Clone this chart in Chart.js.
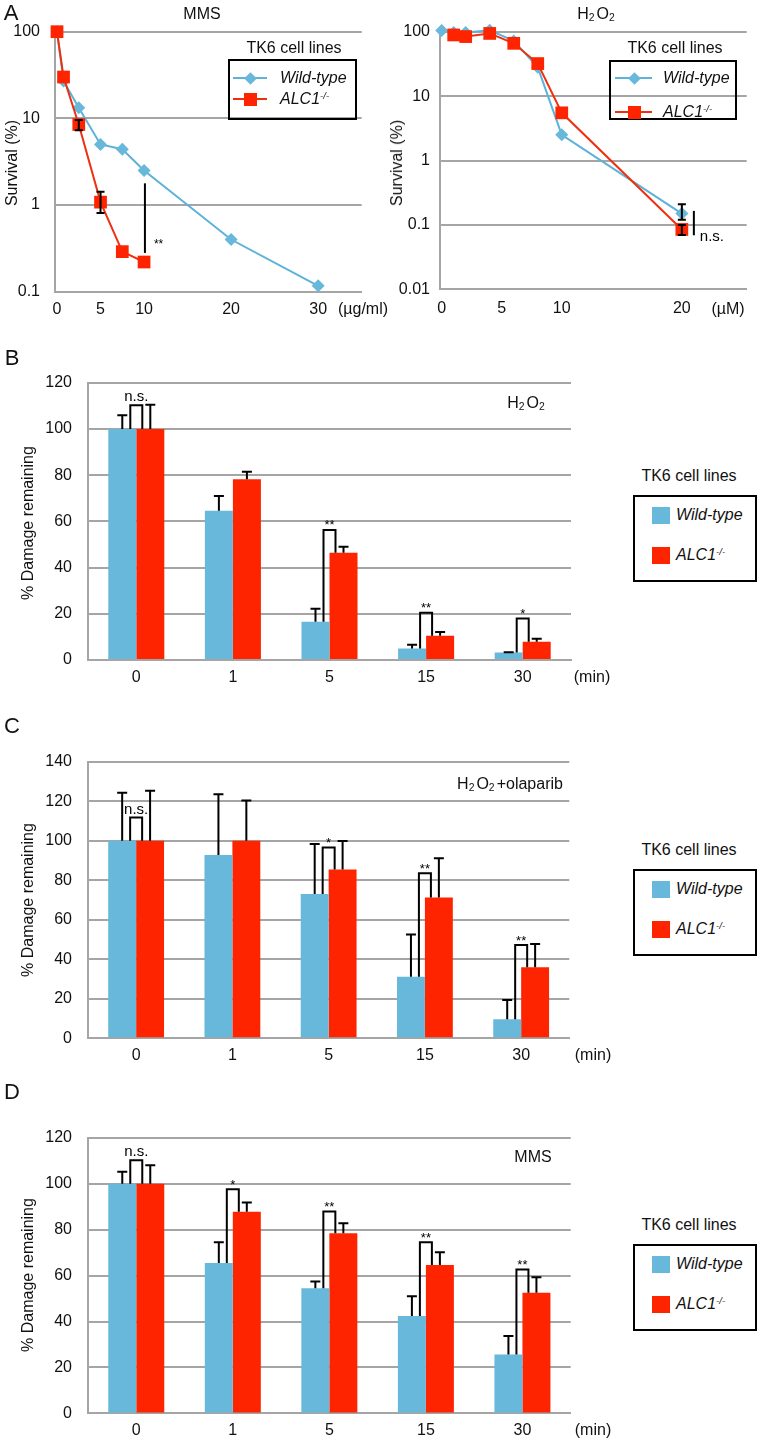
<!DOCTYPE html>
<html>
<head>
<meta charset="utf-8">
<script src="https://cdn.jsdelivr.net/npm/chart.js@4.4.0/dist/chart.umd.min.js"></script>
<style>
body { margin: 0; background: #fff; }
#fig { position: relative; width: 757px; height: 1439px; overflow: hidden; font-family: "Liberation Sans", Arial, sans-serif; color: #111; }
canvas { position: absolute; }
.t { position: absolute; white-space: nowrap; transform: translate(-50%, -50%); font-size: 16px; }
.l { position: absolute; white-space: nowrap; transform: translateY(-50%); font-size: 16px; font-style: italic; }
.yt { position: absolute; white-space: nowrap; transform: translate(-50%, -50%) rotate(-90deg); font-size: 16px; }
.box { position: absolute; border: 2px solid #000; box-sizing: border-box; }
.sw { position: absolute; }
sub { font-size: 0.65em; vertical-align: -0.15em; margin-right: 2px; }
sup { font-size: 0.6em; vertical-align: 0.6em; }
</style>
</head>
<body>
<div id="fig"></div>
<script>
// ---- panel A: survival ----
var mmsTicks = [0, 5, 10, 20, 30];
var mmsWtDose = [0, 0.75, 2.5, 5, 7.5, 10, 20, 30];
var mmsWt = [100, 27, 13.3, 5.0, 4.4, 2.5, 0.40, 0.117];
var mmsAlcDose = [0, 0.75, 2.5, 5, 7.5, 10];
var mmsAlc = [100, 30, 8.5, 1.08, 0.29, 0.22];
var mmsAlcLow = [null, null, 7.3, 0.81, null, null];
var mmsAlcHigh = [null, null, 9.6, 1.42, null, null];
var mmsSig = [10.1, 0.28, 1.78];   // x, from, to

var h2o2Ticks = [0, 5, 10, 20];
var h2o2WtDose = [0, 1, 2, 4, 6, 8, 10, 20];
var h2o2Wt = [104, 97, 97, 105, 72, 28, 2.5, 0.15];
var h2o2WtLow = [null, null, null, null, null, null, null, 0.12];
var h2o2WtHigh = [null, null, null, null, null, null, null, 0.21];
var h2o2AlcDose = [1, 2, 4, 6, 8, 10, 20];
var h2o2Alc = [89, 84, 94, 66, 32, 5.5, 0.085];
var h2o2AlcLow = [null, null, null, null, null, null, 0.07];
var h2o2AlcHigh = [null, null, null, null, null, null, 0.1];
var h2o2Sig = [21, 0.069, 0.165];

// ---- panels B-D: % damage remaining ----
var timeLabels = ['0', '1', '5', '15', '30'];

var bWt = [100, 64.6, 16.6, 5.0, 3.2];
var bWtErr = [5.9, 6.4, 5.6, 1.6, 0.2];
var bAlc = [100, 78.2, 46.4, 10.5, 7.9];
var bAlcErr = [10.5, 3.3, 2.6, 1.6, 1.3];
var bSig = ['n.s.', '', '**', '**', '*'];
var bSigTop = [110.2, null, 56.3, 20.5, 18.0];

var cWt = [100, 92.8, 73.0, 31.2, 9.6];
var cWtErr = [24.3, 30.7, 25.3, 21.4, 9.8];
var cAlc = [100, 100, 85.5, 71.3, 35.9];
var cAlcErr = [25.3, 20.3, 14.3, 19.8, 11.8];
var cSig = ['n.s.', '', '*', '**', '**'];
var cSigTop = [111.7, null, 96.6, 83.5, 47.2];

var dWt = [100, 65.5, 54.5, 42.4, 25.6];
var dWtErr = [5.2, 9.0, 2.9, 8.6, 8.1];
var dAlc = [100, 87.8, 78.4, 64.6, 52.5];
var dAlcErr = [8.0, 4.0, 4.4, 5.5, 6.8];
var dSig = ['n.s.', '*', '**', '**', '**'];
var dSigTop = [110.2, 97.6, 87.9, 74.5, 62.6];

var blue = '#67b8db', red = '#ff2400', lineBlue = '#5cb2d8', lineRed = '#ee3010', gridCol = '#a5a5a5';

Chart.defaults.font.family = '"Liberation Sans", Arial, sans-serif';
Chart.defaults.color = '#111';

var fig = document.getElementById('fig');

function el(cls, html, x, y, css) {
    var d = document.createElement('div');
    d.className = cls;
    d.innerHTML = html;
    d.style.left = x + 'px';
    d.style.top = y + 'px';
    if (css) d.style.cssText += css;
    fig.appendChild(d);
    return d;
}

function mkCanvas(x, y, w, h) {
    var c = document.createElement('canvas');
    c.width = w; c.height = h;
    c.style.left = x + 'px'; c.style.top = y + 'px';
    c.style.width = w + 'px'; c.style.height = h + 'px';
    fig.appendChild(c);
    return c;
}

function pts(xs, ys) {
    return xs.map(function(x, i) { return {x: x, y: ys[i]}; });
}

function survivalExtras(o) {
    return {
        id: 'survivalExtras',
        afterDatasetsDraw: function(chart) {
            var ctx = chart.ctx, xs = chart.scales.x, ys = chart.scales.y;
            ctx.save();
            ctx.strokeStyle = '#000';
            ctx.lineWidth = 2;
            o.errs.forEach(function(e) {
                e.x.forEach(function(xv, i) {
                    if (e.lo[i] == null) return;
                    var px = xs.getPixelForValue(xv);
                    var a = ys.getPixelForValue(e.lo[i]), b = ys.getPixelForValue(e.hi[i]);
                    ctx.beginPath();
                    ctx.moveTo(px, a); ctx.lineTo(px, b);
                    ctx.moveTo(px - 4, a); ctx.lineTo(px + 4, a);
                    ctx.moveTo(px - 4, b); ctx.lineTo(px + 4, b);
                    ctx.stroke();
                });
            });
            var sx = xs.getPixelForValue(o.sig[0]);
            var s1 = ys.getPixelForValue(o.sig[1]), s2 = ys.getPixelForValue(o.sig[2]);
            ctx.beginPath();
            ctx.moveTo(sx, s1); ctx.lineTo(sx, s2);
            ctx.stroke();
            ctx.fillStyle = '#000';
            ctx.textAlign = 'left';
            ctx.textBaseline = 'middle';
            ctx.font = o.sigFont;
            ctx.fillText(o.sigText, sx + o.sigDx, s1 + o.sigDy);
            ctx.restore();
        }
    };
}

function survival(o) {
    var cv = mkCanvas(o.box[0], o.box[1], o.box[2], o.box[3]);
    return new Chart(cv, {
        type: 'line',
        data: {
            datasets: [{
                label: 'ALC1-/-',
                data: pts(o.alcX, o.alcY),
                borderColor: lineRed,
                borderWidth: 2,
                pointStyle: 'rect',
                pointRadius: 9,
                pointBackgroundColor: red,
                pointBorderWidth: 0,
                tension: 0,
                order: 0,
                clip: false
            }, {
                label: 'Wild-type',
                data: pts(o.wtX, o.wtY),
                borderColor: lineBlue,
                borderWidth: 2,
                pointStyle: 'rectRot',
                pointRadius: 6.5,
                pointBackgroundColor: blue,
                pointBorderWidth: 0,
                tension: 0,
                order: 1,
                clip: false
            }]
        },
        options: {
            responsive: false,
            animation: false,
            events: [],
            layout: { padding: o.pad },
            plugins: { legend: { display: false }, tooltip: { enabled: false } },
            scales: {
                x: {
                    type: 'linear',
                    min: o.xMin, max: o.xMax,
                    grid: { display: false, drawTicks: false },
                    border: { color: gridCol, width: 2 },
                    afterBuildTicks: function(s) { s.ticks = o.xTicks.map(function(v) { return {value: v}; }); },
                    afterFit: function(s) { s.height = o.xH; },
                    ticks: { padding: o.xPad, font: { size: 16 }, color: '#111', maxRotation: 0, autoSkip: false,
                             callback: function(v) { return String(v); } }
                },
                y: {
                    type: 'logarithmic',
                    min: o.yTicks[0], max: o.yTicks[o.yTicks.length - 1],
                    grid: { color: gridCol, lineWidth: 2, drawTicks: false },
                    border: { color: gridCol, width: 2 },
                    afterBuildTicks: function(s) { s.ticks = o.yTicks.map(function(v) { return {value: v}; }); },
                    afterFit: function(s) { s.width = o.yW; },
                    ticks: { padding: o.yPad, font: { size: 16 }, color: '#111',
                             callback: function(v) { return String(v); } }
                }
            }
        },
        plugins: [survivalExtras(o)]
    });
}

function barExtras(wErr, aErr, sig, sigTop) {
    return {
        id: 'barExtras',
        afterDatasetsDraw: function(chart) {
            var ctx = chart.ctx, ys = chart.scales.y;
            var mw = chart.getDatasetMeta(0), ma = chart.getDatasetMeta(1);
            var dw = chart.data.datasets[0].data, da = chart.data.datasets[1].data;
            ctx.save();
            ctx.strokeStyle = '#000';
            ctx.lineWidth = 2;
            [[mw, dw, wErr], [ma, da, aErr]].forEach(function(s) {
                s[0].data.forEach(function(bar, i) {
                    var top = ys.getPixelForValue(s[1][i] + s[2][i]);
                    ctx.beginPath();
                    ctx.moveTo(bar.x, bar.y); ctx.lineTo(bar.x, top);
                    ctx.moveTo(bar.x - 5, top); ctx.lineTo(bar.x + 5, top);
                    ctx.stroke();
                });
            });
            ctx.fillStyle = '#000';
            ctx.textAlign = 'center';
            ctx.textBaseline = 'alphabetic';
            sig.forEach(function(txt, i) {
                if (!txt) return;
                var cx = (mw.data[i].x + ma.data[i].x) / 2;
                var t = ys.getPixelForValue(sigTop[i]);
                ctx.beginPath();
                ctx.moveTo(cx - 6, mw.data[i].y);
                ctx.lineTo(cx - 6, t);
                ctx.lineTo(cx + 6, t);
                ctx.lineTo(cx + 6, ma.data[i].y);
                ctx.stroke();
                if (txt === 'n.s.') {
                    ctx.font = '15px "Liberation Sans", Arial, sans-serif';
                    ctx.fillText(txt, cx, t - 4);
                } else {
                    ctx.font = '13px "Liberation Sans", Arial, sans-serif';
                    ctx.fillText(txt, cx, t - 0.5);
                }
            });
            ctx.restore();
        }
    };
}

function damage(o) {
    var cv = mkCanvas(o.box[0], o.box[1], o.box[2], o.box[3]);
    return new Chart(cv, {
        type: 'bar',
        data: {
            labels: timeLabels,
            datasets: [
                { label: 'Wild-type', data: o.wt, backgroundColor: blue, borderWidth: 0, categoryPercentage: 0.58, barPercentage: 1 },
                { label: 'ALC1-/-', data: o.alc, backgroundColor: red, borderWidth: 0, categoryPercentage: 0.58, barPercentage: 1 }
            ]
        },
        options: {
            responsive: false,
            animation: false,
            events: [],
            layout: { padding: o.pad },
            plugins: { legend: { display: false }, tooltip: { enabled: false } },
            scales: {
                x: {
                    grid: { display: false, drawTicks: false },
                    border: { color: gridCol, width: 2 },
                    afterFit: function(s) { s.height = o.xH; },
                    ticks: { padding: 8, font: { size: 16 }, color: '#111', maxRotation: 0 }
                },
                y: {
                    min: 0, max: o.yMax,
                    grid: { color: gridCol, lineWidth: 2, drawTicks: false },
                    border: { color: gridCol, width: 2 },
                    afterFit: function(s) { s.width = 88; },
                    ticks: { stepSize: 20, padding: 16, font: { size: 16 }, color: '#111' }
                }
            }
        },
        plugins: [barExtras(o.wtErr, o.alcErr, o.sig, o.sigTop)]
    });
}

// A left: MMS survival
survival({
    box: [0, 0, 380, 330],
    pad: { top: 31.7, right: 18.3, left: 0, bottom: 0 },
    yW: 55, xH: 38.3, yPad: 15, xPad: 8,
    xMin: -0.23, xMax: 35, xTicks: mmsTicks, yTicks: [0.1, 1, 10, 100],
    wtX: mmsWtDose, wtY: mmsWt, alcX: mmsAlcDose, alcY: mmsAlc,
    errs: [{ x: mmsAlcDose, lo: mmsAlcLow, hi: mmsAlcHigh }],
    sig: mmsSig, sigText: '**', sigFont: '12px "Liberation Sans", Arial, sans-serif', sigDx: 9, sigDy: -8
});

// A right: H2O2 survival
survival({
    box: [380, 0, 377, 330],
    pad: { top: 31.7, right: 10.3, left: 0, bottom: 0 },
    yW: 60, xH: 40.7, yPad: 10, xPad: 10,
    xMin: -0.14, xMax: 25.4, xTicks: h2o2Ticks, yTicks: [0.01, 0.1, 1, 10, 100],
    wtX: h2o2WtDose, wtY: h2o2Wt, alcX: h2o2AlcDose, alcY: h2o2Alc,
    errs: [{ x: h2o2WtDose, lo: h2o2WtLow, hi: h2o2WtHigh }, { x: h2o2AlcDose, lo: h2o2AlcLow, hi: h2o2AlcHigh }],
    sig: h2o2Sig, sigText: 'n.s.', sigFont: '15px "Liberation Sans", Arial, sans-serif', sigDx: 6, sigDy: 2
});

damage({ box: [0, 330, 600, 370], pad: { top: 52.7, right: 29, left: 0, bottom: 0 }, xH: 40, yMax: 120,
         wt: bWt, wtErr: bWtErr, alc: bAlc, alcErr: bAlcErr, sig: bSig, sigTop: bSigTop });
damage({ box: [0, 720, 600, 360], pad: { top: 41.7, right: 30.7, left: 0, bottom: 0 }, xH: 41.7, yMax: 140,
         wt: cWt, wtErr: cWtErr, alc: cAlc, alcErr: cAlcErr, sig: cSig, sigTop: cSigTop });
damage({ box: [0, 1100, 600, 339], pad: { top: 37.7, right: 29.3, left: 0, bottom: 0 }, xH: 24.7, yMax: 120,
         wt: dWt, wtErr: dWtErr, alc: dAlc, alcErr: dAlcErr, sig: dSig, sigTop: dSigTop });

// ---- text and legends ----
var h2o2 = 'H<sub>2</sub>O<sub>2</sub>';
var alcTxt = 'ALC1<sup>-/-</sup>';

el('t', 'A', 11, 13, 'font-size:22px');
el('t', 'MMS', 202, 14);
el('t', h2o2, 597, 14);
el('yt', 'Survival (%)', 12, 163);
el('yt', 'Survival (%)', 397, 163);
el('t', '(\u00b5g/ml)', 363, 309);
el('t', '(\u00b5M)', 728, 309);

function lineLegend(bx, by, bw, bh, titleX, lx, lw, mx, tx, rows) {
    el('t', 'TK6 cell lines', titleX, 48);
    el('box', '', bx, by, 'width:' + bw + 'px;height:' + bh + 'px');
    el('sw', '', lx, rows[0] - 1, 'width:' + lw + 'px;height:2px;background:' + lineBlue);
    el('sw', '', mx - 4.5, rows[0] - 4.5, 'width:9px;height:9px;background:' + blue + ';transform:rotate(45deg)');
    el('l', 'Wild-type', tx, rows[0]);
    el('sw', '', lx, rows[1] - 1, 'width:' + lw + 'px;height:2px;background:' + lineRed);
    el('sw', '', mx - 6.5, rows[1] - 6.5, 'width:13px;height:13px;background:' + red);
    el('l', alcTxt, tx, rows[1]);
}
lineLegend(228, 59, 129, 61, 294, 233, 34, 250, 280, [78, 99]);
lineLegend(609, 60, 128, 60, 675, 615, 37, 634, 663, [78, 112]);

function barLegend(boxTop, titleY) {
    el('t', 'TK6 cell lines', 689, titleY);
    el('box', '', 633, boxTop, 'width:124px;height:87px');
    el('sw', '', 652, boxTop + 11.5, 'width:18px;height:17px;background:' + blue);
    el('l', 'Wild-type', 676, boxTop + 20);
    el('sw', '', 652, boxTop + 51.5, 'width:18px;height:17px;background:' + red);
    el('l', alcTxt, 676, boxTop + 60);
}

el('t', 'B', 12, 358, 'font-size:22px');
el('yt', '% Damage remaining', 28, 523);
el('t', h2o2, 527, 403);
el('t', '(min)', 592, 677);
barLegend(495, 476);

el('t', 'C', 12, 726, 'font-size:22px');
el('yt', '% Damage remaining', 28, 900);
el('t', h2o2 + '+olaparib', 510, 784);
el('t', '(min)', 593, 1055);
barLegend(869, 850);

el('t', 'D', 12, 1092, 'font-size:22px');
el('yt', '% Damage remaining', 28, 1275);
el('t', 'MMS', 533, 1157);
el('t', '(min)', 593, 1430);
barLegend(1244, 1225);
</script>
</body>
</html>
